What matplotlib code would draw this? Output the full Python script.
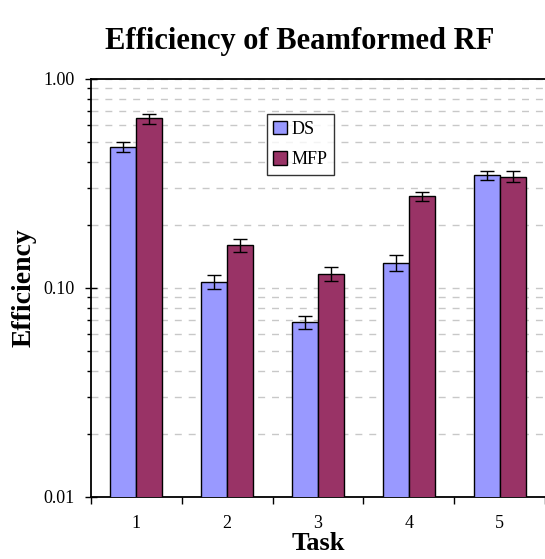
import matplotlib
matplotlib.use("Agg")
import matplotlib.pyplot as plt
import numpy as np
from matplotlib.ticker import LogLocator, FixedLocator, FuncFormatter, NullFormatter

plt.rcParams['font.family'] = ['Liberation Serif', 'DejaVu Serif']

# data
tasks = ['1', '2', '3', '4', '5']
ds = [0.474, 0.107, 0.0684, 0.132, 0.346]
ds_err = [0.025, 0.008, 0.005, 0.012, 0.018]
mfp = [0.646, 0.160, 0.117, 0.275, 0.341]
mfp_err = [0.036, 0.012, 0.009, 0.014, 0.020]

ds_color = '#9999FF'
mfp_color = '#993366'

fig = plt.figure(figsize=(5.45, 5.59), dpi=100)
ax = fig.add_axes([0.167, 0.111, 0.833, 0.748])

x = np.arange(1, len(tasks) + 1)
w = 0.286
ax.bar(x - w / 2, ds, w, color=ds_color, edgecolor='black', linewidth=1, label='DS', zorder=3,
       yerr=ds_err, error_kw=dict(ecolor='black', elinewidth=1, capsize=5, capthick=1, zorder=4))
ax.bar(x + w / 2, mfp, w, color=mfp_color, edgecolor='black', linewidth=1, label='MFP', zorder=3,
       yerr=mfp_err, error_kw=dict(ecolor='black', elinewidth=1, capsize=5, capthick=1, zorder=4))

ax.set_yscale('log')
ax.set_ylim(0.01, 1.0)
ax.set_xlim(0.5, len(tasks) + 0.5)

# y ticks
ax.yaxis.set_major_locator(FixedLocator([0.01, 0.1, 1.0]))
ax.yaxis.set_major_formatter(FuncFormatter(lambda v, p: '%.2f' % v))
ax.yaxis.set_minor_locator(LogLocator(base=10, subs=np.arange(2, 10)))
ax.yaxis.set_minor_formatter(NullFormatter())
ax.tick_params(axis='y', which='major', direction='inout', length=8, width=1, labelsize=13, pad=8)
ax.tick_params(axis='y', which='minor', direction='out', length=3, width=1)
ax.grid(axis='y', which='both', color='#c8c8c8', linestyle=(0, (5, 5)), linewidth=1, zorder=0)

# x ticks at category boundaries, labels at centers
ax.set_xticks(np.arange(0.5, len(tasks) + 1, 1.0))
ax.set_xticklabels([])
ax.set_xticks(x, minor=True)
ax.set_xticklabels(tasks, minor=True)
ax.tick_params(axis='x', which='major', direction='out', length=5, width=1)
ax.tick_params(axis='x', which='minor', length=0, labelsize=13, pad=13)

for s in ['left', 'bottom', 'top']:
    ax.spines[s].set_linewidth(1.3)
    ax.spines[s].set_color('black')
ax.spines['right'].set_visible(False)

ax.set_xlabel('Task', fontsize=19, fontweight='bold', labelpad=0)
ax.set_ylabel('Efficiency', fontsize=20, fontweight='bold', labelpad=5)
fig.text(0.55, 0.926, 'Efficiency of Beamformed RF', ha='center', va='center',
         fontsize=22, fontweight='bold')

leg = ax.legend(loc='upper left', bbox_to_anchor=(0.367, 0.937), fontsize=13,
                frameon=True, fancybox=False, edgecolor='black', handlelength=0.8,
                handleheight=0.8, handletextpad=0.25, borderpad=0.35, labelspacing=0.75)
leg.get_frame().set_linewidth(1)
leg.set_zorder(5)

fig.savefig('out.png', dpi=100)
